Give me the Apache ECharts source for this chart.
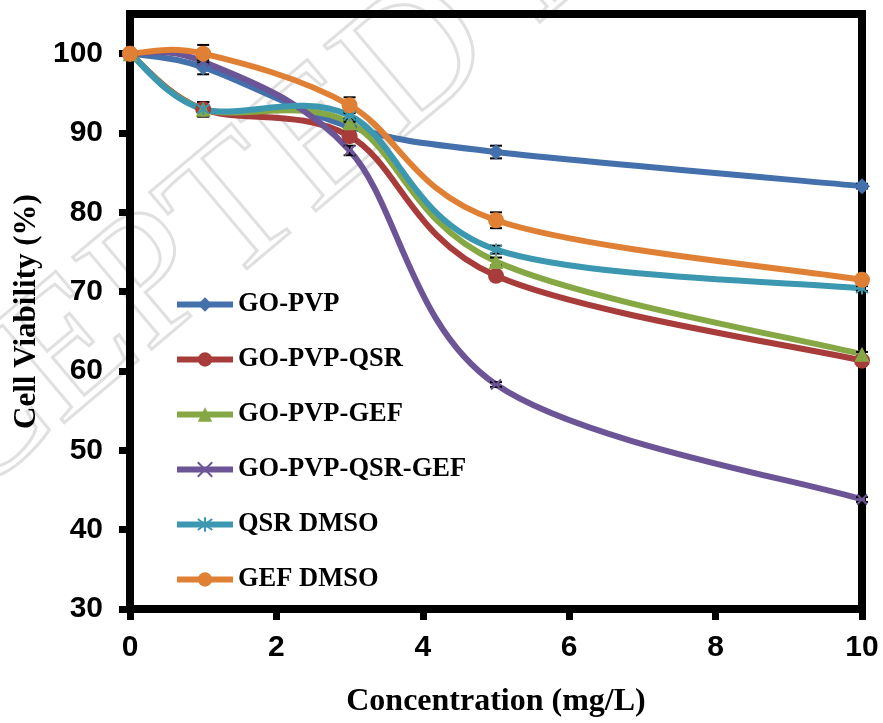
<!DOCTYPE html>
<html>
<head>
<meta charset="utf-8">
<script src="https://cdn.jsdelivr.net/npm/echarts@6/dist/echarts.min.js"></script>
<style>
  html, body { margin: 0; padding: 0; background: #fff; }
  #chart { width: 883px; height: 723px; }
</style>
</head>
<body>
<div id="chart"></div>
<script>
// Concentrations (mg/L) and cell viability (%) for each formulation
const concentrations = [0, 1, 3, 5, 10];
const xTicks = [0, 2, 4, 6, 8, 10];
const yTicks = [30, 40, 50, 60, 70, 80, 90, 100];

const seriesNames = ['GO-PVP', 'GO-PVP-QSR', 'GO-PVP-GEF', 'GO-PVP-QSR-GEF', 'QSR DMSO', 'GEF DMSO'];

const goPvp       = [100, 98.3, 90.8, 87.6, 83.3];
const goPvpQsr    = [100, 93.0, 89.6, 72.0, 61.3];
const goPvpGef    = [100, 93.0, 91.3, 73.8, 62.1];
const goPvpQsrGef = [100, 99.0, 87.8, 58.3, 43.8];
const qsrDmso     = [100, 93.0, 92.2, 75.3, 70.4];
const gefDmso     = [100, 100.0, 93.5, 79.0, 71.5];

// Standard deviations (error bars)
const goPvpErr       = [0, 0.9, 0.6, 0.8, 0.3];
const goPvpQsrErr    = [0, 0.9, 0.6, 0.5, 0.3];
const goPvpGefErr    = [0, 0.9, 0.5, 0.5, 0.3];
const goPvpQsrGefErr = [0, 0.5, 0.6, 0.3, 0.3];
const qsrDmsoErr     = [0, 0.9, 0.5, 0.5, 0.3];
const gefDmsoErr     = [0, 1.1, 1.0, 1.0, 0.3];

const values = [goPvp, goPvpQsr, goPvpGef, goPvpQsrGef, qsrDmso, gefDmso];
const errors = [goPvpErr, goPvpQsrErr, goPvpGefErr, goPvpQsrGefErr, qsrDmsoErr, gefDmsoErr];
const colors = ['#4470ac', '#a83c3a', '#86a844', '#6b5596', '#3b98b0', '#e08035'];

const crossPath = 'path://M0,0L10,10M10,0L0,10';
const starPath = 'path://M5,0L5,10M1.2,1.2L8.8,8.8M8.8,1.2L1.2,8.8';
const symbols = [
  { symbol: 'diamond', size: 16, border: 0 },
  { symbol: 'circle', size: 16, border: 0 },
  { symbol: 'triangle', size: 15, border: 0 },
  { symbol: crossPath, size: 10, border: 2 },
  { symbol: starPath, size: 12, border: 2 },
  { symbol: 'circle', size: 16, border: 0 }
];

const LINE_WIDTH = 6;
const n = concentrations.length;

const chart = echarts.init(document.getElementById('chart'));

// Markers (and legend entries); the connecting curves are drawn separately
const markerSeries = seriesNames.map((name, i) => ({
  name: name,
  type: 'line',
  clip: false,
  z: 4,
  data: concentrations.map((c, j) => [c, values[i][j]]),
  symbol: symbols[i].symbol,
  symbolSize: symbols[i].size,
  showAllSymbol: true,
  lineStyle: { color: colors[i], width: LINE_WIDTH, opacity: 0 },
  itemStyle: {
    color: colors[i],
    borderColor: colors[i],
    borderWidth: symbols[i].border
  },
  emphasis: { disabled: true }
}));

// Cardinal-spline curves (tension 1/6) through the mapped data points,
// one Bezier segment per pair of neighbouring concentrations
const curveSeries = seriesNames.map((name, i) => ({
  name: name + ' curve',
  type: 'custom',
  z: 2,
  silent: true,
  clip: false,
  data: concentrations.slice(0, n - 1).map((c, j) => [c, values[i][j]]),
  encode: { x: 0, y: 1 },
  renderItem: function (params, api) {
    const j = params.dataIndex;
    const pt = k => {
      const idx = Math.max(0, Math.min(n - 1, k));
      return api.coord([concentrations[idx], values[i][idx]]);
    };
    const p0 = pt(j - 1), p1 = pt(j), p2 = pt(j + 1), p3 = pt(j + 2);
    return {
      type: 'bezierCurve',
      shape: {
        x1: p1[0], y1: p1[1],
        cpx1: p1[0] + (p2[0] - p0[0]) / 6,
        cpy1: p1[1] + (p2[1] - p0[1]) / 6,
        cpx2: p2[0] - (p3[0] - p1[0]) / 6,
        cpy2: p2[1] - (p3[1] - p1[1]) / 6,
        x2: p2[0], y2: p2[1]
      },
      style: { stroke: colors[i], lineWidth: LINE_WIDTH, fill: null, lineCap: 'round' }
    };
  }
}));

// Error bars drawn with the axes' own coordinate mapping
const errorSeries = seriesNames.map((name, i) => ({
  name: name + ' error',
  type: 'custom',
  z: 3,
  silent: true,
  clip: false,
  data: concentrations.map((c, j) => [c, values[i][j], errors[i][j]]),
  encode: { x: 0, y: 1 },
  renderItem: function (params, api) {
    const x = api.value(0);
    const y = api.value(1);
    const e = api.value(2);
    if (!e) return null;
    const hi = api.coord([x, y + e]);
    const lo = api.coord([x, y - e]);
    const half = 6;
    const style = { stroke: '#000', lineWidth: 2 };
    return {
      type: 'group',
      children: [
        { type: 'line', shape: { x1: hi[0], y1: hi[1], x2: lo[0], y2: lo[1] }, style: style },
        { type: 'line', shape: { x1: hi[0] - half, y1: hi[1], x2: hi[0] + half, y2: hi[1] }, style: style },
        { type: 'line', shape: { x1: lo[0] - half, y1: lo[1], x2: lo[0] + half, y2: lo[1] }, style: style }
      ]
    };
  }
}));

const option = {
  backgroundColor: '#fff',
  animation: false,
  graphic: [{
    type: 'text',
    x: -262,
    y: 634,
    rotation: 0.70,
    z: -10,
    silent: true,
    style: {
      text: 'ACCEPTED MANUSCRIPT',
      font: '185px "Liberation Serif"',
      fill: 'rgba(0,0,0,0)',
      stroke: '#e0e0e0',
      lineWidth: 3,
      textVerticalAlign: 'middle'
    }
  }],
  grid: {
    left: 130, right: 21, top: 14, bottom: 110,
    show: true,
    borderColor: '#000',
    borderWidth: 8,
    backgroundColor: 'transparent'
  },
  legend: {
    orient: 'vertical',
    left: 169,
    top: 286,
    itemWidth: 56,
    itemHeight: 18,
    itemGap: 28,
    data: seriesNames,
    lineStyle: { width: LINE_WIDTH, opacity: 1 },
    textStyle: {
      fontFamily: '"Liberation Serif", "Times New Roman", serif',
      fontWeight: 'bold',
      fontSize: 26.5,
      lineHeight: 26,
      color: '#000'
    }
  },
  xAxis: {
    type: 'value',
    min: 0,
    max: 10,
    interval: 2,
    name: 'Concentration (mg/L)',
    nameLocation: 'middle',
    nameGap: 77,
    nameTextStyle: {
      fontFamily: '"Liberation Serif", "Times New Roman", serif',
      fontWeight: 'bold',
      fontSize: 32,
      color: '#000'
    },
    axisLine: { show: true, lineStyle: { color: '#000', width: 8 } },
    axisTick: { show: true, length: 11, lineStyle: { color: '#000', width: 7 }, customValues: xTicks },
    splitLine: { show: false },
    axisLabel: {
      margin: 24,
      customValues: xTicks,
      fontFamily: '"Liberation Sans", Arial, sans-serif',
      fontWeight: 'bold',
      fontSize: 30,
      color: '#000'
    }
  },
  yAxis: {
    type: 'value',
    min: 30,
    max: 105,
    interval: 10,
    name: 'Cell Viability (%)',
    nameLocation: 'middle',
    nameRotate: 90,
    nameGap: 84,
    nameTextStyle: {
      fontFamily: '"Liberation Serif", "Times New Roman", serif',
      fontWeight: 'bold',
      fontSize: 31,
      color: '#000'
    },
    axisLine: { show: true, lineStyle: { color: '#000', width: 8 } },
    axisTick: { show: true, length: 11, lineStyle: { color: '#000', width: 7 }, customValues: yTicks },
    splitLine: { show: false },
    axisLabel: {
      margin: 27,
      customValues: yTicks,
      fontFamily: '"Liberation Sans", Arial, sans-serif',
      fontWeight: 'bold',
      fontSize: 30,
      color: '#000'
    }
  },
  series: curveSeries.concat(errorSeries, markerSeries)
};

chart.setOption(option);
</script>
</body>
</html>
